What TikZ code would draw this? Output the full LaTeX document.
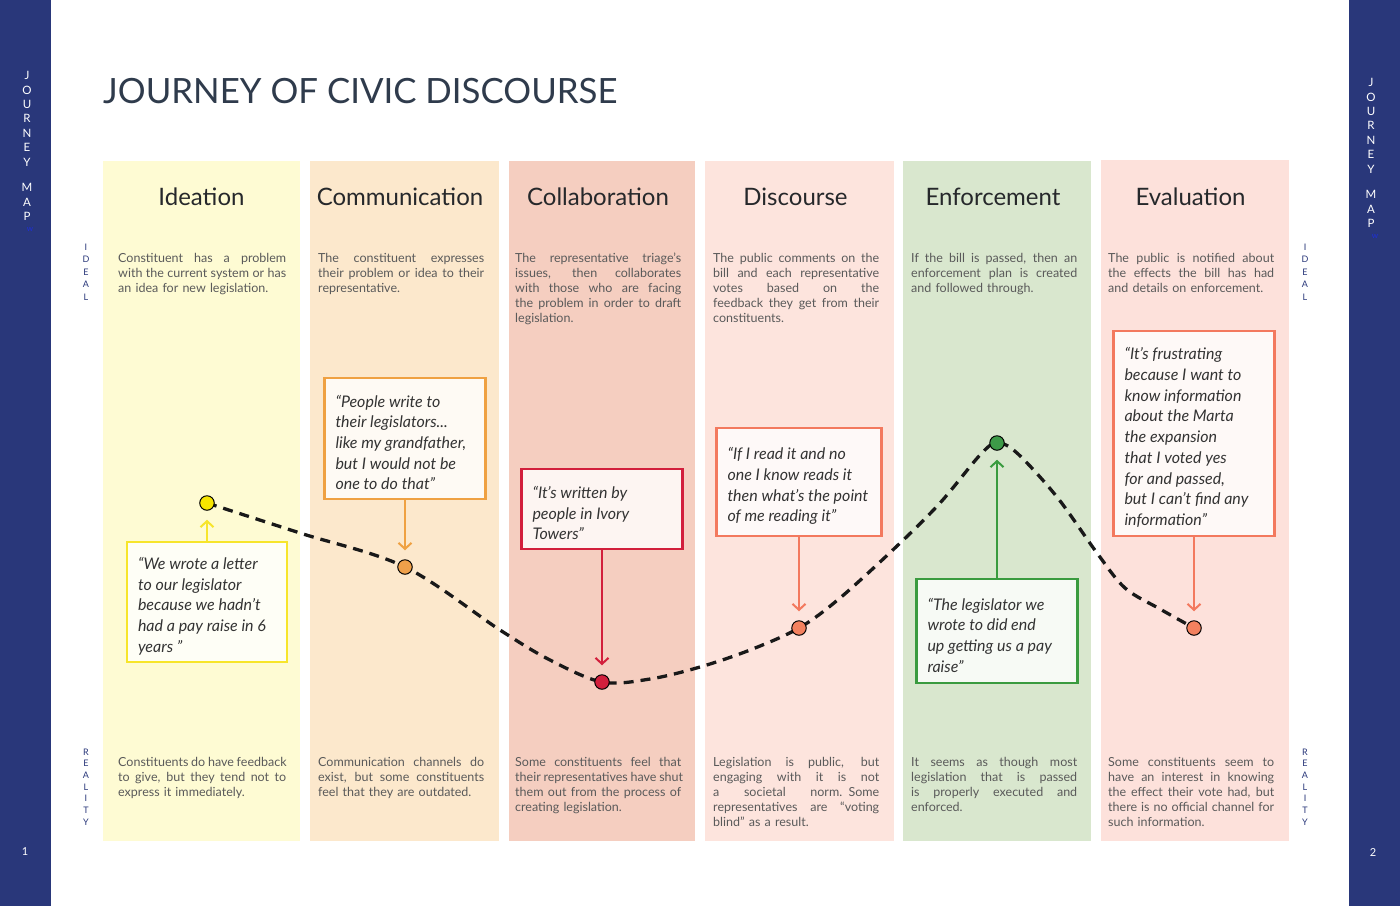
\documentclass[tikz,border=0pt]{standalone}
\usepackage{fontspec}
\setmainfont{Lato}
\usetikzlibrary{arrows.meta}
\setlength{\parindent}{0pt}
\definecolor{navy}{HTML}{29377A}
\definecolor{cIde}{HTML}{FEFBD3}
\definecolor{cCom}{HTML}{FCE8CC}
\definecolor{cCol}{HTML}{F5CEC0}
\definecolor{cDis}{HTML}{FDE4DD}
\definecolor{cEnf}{HTML}{D9E7CE}
\definecolor{cEva}{HTML}{FDE1DB}
\definecolor{titlec}{HTML}{2F3B4C}
\definecolor{headc}{HTML}{26282B}
\definecolor{bodyc}{HTML}{5A5A5A}
\definecolor{quotec}{HTML}{333333}
\definecolor{bYel}{HTML}{F7E52B}
\definecolor{dYel}{HTML}{F6E500}
\definecolor{bOra}{HTML}{EFA142}
\definecolor{dOra}{HTML}{EFA04A}
\definecolor{bRed}{HTML}{D21F3C}
\definecolor{bSal}{HTML}{F3795E}
\definecolor{dSal}{HTML}{F3815F}
\definecolor{bGre}{HTML}{3A9B3F}
\definecolor{dGre}{HTML}{3D9A48}
\definecolor{wblue}{HTML}{1E2FD6}
\newcommand{\jl}[2][166pt]{\makebox[#1][s]{\spaceskip=.28em plus 1em minus .06em\relax #2}\\}
\begin{document}
\begin{tikzpicture}[x=1pt,y=-1pt,
  body/.style={anchor=north west, inner sep=0pt, text width=170pt, align=left, text=bodyc, font=\fontsize{12.5}{15}\selectfont},
  head/.style={anchor=base, inner sep=0pt, text=headc, font=\fontsize{24}{24}\selectfont},
  qbox/.style={draw=#1, line width=2.4pt, fill=white, fill opacity=0.8, inner sep=0pt, minimum width=161pt},
  qtext/.style={anchor=west, inner sep=0pt, align=left, text=quotec, font=\itshape\fontsize{16}{20.7}\selectfont},
  dot/.style={circle, draw=black, line width=1pt, fill=#1, minimum size=14.5pt, inner sep=0pt},
  arr/.style={draw=#1, line width=2pt, -{Straight Barb[length=6pt,width=13pt,line width=2pt]}, shorten >=9pt},
  side/.style={align=center, inner sep=0pt, text=white, font=\fontsize{11.5}{14.4}\selectfont},
  vlab/.style={align=center, inner sep=0pt, text=navy, font=\fontsize{9}{12.5}\selectfont}
]
\useasboundingbox (0,0) rectangle (1400,906);
\fill[white] (0,0) rectangle (1400,906);
% sidebars
\fill[navy] (0,0) rectangle (51,906);
\fill[navy] (1349,0) rectangle (1400,906);
\node[side] (jmL) at (27,146) {J\\O\\U\\R\\N\\E\\Y\\[11.2pt]M\\A\\P};
\node[side] (jmR) at (1371,153) {J\\O\\U\\R\\N\\E\\Y\\[11.2pt]M\\A\\P};
\node[inner sep=0pt, text=wblue, font=\fontsize{8}{8}\selectfont] (wL) at (30,229) {w};
\node[inner sep=0pt, text=wblue, font=\fontsize{8}{8}\selectfont] (wR) at (1375,236) {w};
\node[inner sep=0pt, text=white, font=\fontsize{11}{11}\selectfont] (pg1) at (25,852) {1};
\node[inner sep=0pt, text=white, font=\fontsize{11}{11}\selectfont] (pg2) at (1373,852) {2};
\node[vlab] (idL) at (86,272) {I\\D\\E\\A\\L};
\node[vlab] (idR) at (1305,272) {I\\D\\E\\A\\L};
\node[vlab, font=\fontsize{9}{11.7}\selectfont] (reL) at (86,787) {R\\E\\A\\L\\I\\T\\Y};
\node[vlab, font=\fontsize{9}{11.7}\selectfont] (reR) at (1305,787) {R\\E\\A\\L\\I\\T\\Y};
% title
\node[anchor=base west, inner sep=0pt, text=titlec, font=\fontsize{34.8}{35}\selectfont] (title) at (103,103) {JOURNEY OF CIVIC DISCOURSE};
% columns
\fill[cIde] (103,161) rectangle (300,841);
\fill[cCom] (310,161) rectangle (499,841);
\fill[cCol] (509,161) rectangle (695,841);
\fill[cDis] (705,161) rectangle (894,841);
\fill[cEnf] (903,161) rectangle (1091,841);
\fill[cEva] (1101,160) rectangle (1289,841);
% headers
\node[head] (h1) at (201.5,205.5) {Ideation};
\node[head] (h2) at (400,205.5) {Communication};
\node[head] (h3) at (598,205.5) {Collaboration};
\node[head] (h4) at (795.5,205.5) {Discourse};
\node[head] (h5) at (993,205.5) {Enforcement};
\node[head] (h6) at (1190.5,205.5) {Evaluation};
% ideal texts
\node[body] (i1) at (118,253) {\jl[168pt]{Constituent has a problem}\jl[168pt]{with the current system or has}an idea for new legislation.};
\node[body] (i2) at (318,253) {\jl{The constituent expresses}\jl{their problem or idea to their}representative.};
\node[body] (i3) at (515,253) {\jl{The representative triage’s}\jl{issues, then collaborates}\jl{with those who are facing}\jl{the problem in order to draft}legislation.};
\node[body] (i4) at (713,253) {\jl{The public comments on the}\jl{bill and each representative}\jl{votes based on the}\jl{feedback they get from their}constituents.};
\node[body] (i5) at (911,253) {\jl{If the bill is passed, then an}\jl{enforcement plan is created}and followed through.};
\node[body] (i6) at (1108,253) {\jl{The public is notified about}\jl{the effects the bill has had}and details on enforcement.};
% reality texts
\node[body] (r1) at (118,757) {\jl[168pt]{Constituents do have feedback}\jl[168pt]{to give, but they tend not to}express it immediately.};
\node[body] (r2) at (318,757) {\jl{Communication channels do}\jl{exist, but some constituents}feel that they are outdated.};
\node[body] (r3) at (515,757) {\jl{Some constituents feel that}\jl{their representatives have shut}\jl{them out from the process of}creating legislation.};
\node[body] (r4) at (713,757) {\jl{Legislation is public, but}\jl{engaging with it is not}\jl{a societal norm. Some}\jl{representatives are “voting}blind” as a result.};
\node[body] (r5) at (911,757) {\jl{It seems as though most}\jl{legislation that is passed}\jl{is properly executed and}enforced.};
\node[body] (r6) at (1108,757) {\jl{Some constituents seem to}\jl{have an interest in knowing}\jl{the effect their vote had, but}\jl{there is no official channel for}such information.};
% journey points
\coordinate (p1) at (207,503);
\coordinate (p2) at (405,567);
\coordinate (p3) at (602,682);
\coordinate (p4) at (799,628);
\coordinate (p5) at (997,443);
\coordinate (p6) at (1194,628);
% quote boxes
\node[qbox=bYel, minimum width=160pt, minimum height=120pt] (q1) at (207,602) {};
\node[qtext] (t1) at ([xshift=12pt,yshift=-4pt]q1.west) {“We wrote a letter\\to our legislator\\because we hadn’t\\had a pay raise in 6\\years ”};
\node[qbox=bOra, minimum height=121pt] (q2) at (405,438.5) {};
\node[qtext] (t2) at ([xshift=12pt,yshift=-4pt]q2.west) {“People write to\\their legislators...\\like my grandfather,\\but I would not be\\one to do that”};
\node[qbox=bRed, minimum height=80pt] (q3) at (602,509) {};
\node[qtext] (t3) at ([xshift=12pt,yshift=-4pt]q3.west) {“It’s written by\\people in Ivory\\Towers”};
\node[qbox=bSal, minimum width=165pt, minimum height=108pt] (q4) at (799,482) {};
\node[qtext] (t4) at ([xshift=12pt,yshift=-4pt]q4.west) {“If I read it and no\\one I know reads it\\then what’s the point\\of me reading it”};
\node[qbox=bGre, minimum height=104pt] (q5) at (997,631) {};
\node[qtext] (t5) at ([xshift=12pt,yshift=-4pt]q5.west) {“The legislator we\\wrote to did end\\up getting us a pay\\raise”};
\node[qbox=bSal, minimum height=205pt] (q6) at (1194,433.5) {};
\node[qtext] (t6) at ([xshift=12pt,yshift=-4pt]q6.west) {“It’s frustrating\\because I want to\\know information\\about the Marta\\the expansion\\that I voted yes\\for and passed,\\but I can’t find any\\information”};
% dashed journey line
\draw[line width=3.3pt, dash pattern=on 10pt off 7pt, black!90] plot[smooth, tension=0.55] coordinates {(p1) (300,533) (p2) (500,630) (550,660) (p3) (650,679) (700,667) (750,650) (p4) (840,598) (897,546) (940,503) (980,455) (p5) (1017,453) (1057,497) (1097,553) (1125,588) (1160,609) (p6)};
% dots
\node[dot=dYel] (d1) at (p1) {};
\node[dot=dOra] (d2) at (p2) {};
\node[dot=bRed] (d3) at (p3) {};
\node[dot=dSal] (d4) at (p4) {};
\node[dot=dGre] (d5) at (p5) {};
\node[dot=dSal] (d6) at (p6) {};
% arrows
\draw[arr=bYel] (q1.north) -- (d1);
\draw[arr=bOra] (q2.south) -- (d2);
\draw[arr=bRed] (q3.south) -- (d3);
\draw[arr=bSal] (q4.south) -- (d4);
\draw[arr=bGre] (q5.north) -- (d5);
\draw[arr=bSal] (q6.south) -- (d6);
\end{tikzpicture}
\end{document}
